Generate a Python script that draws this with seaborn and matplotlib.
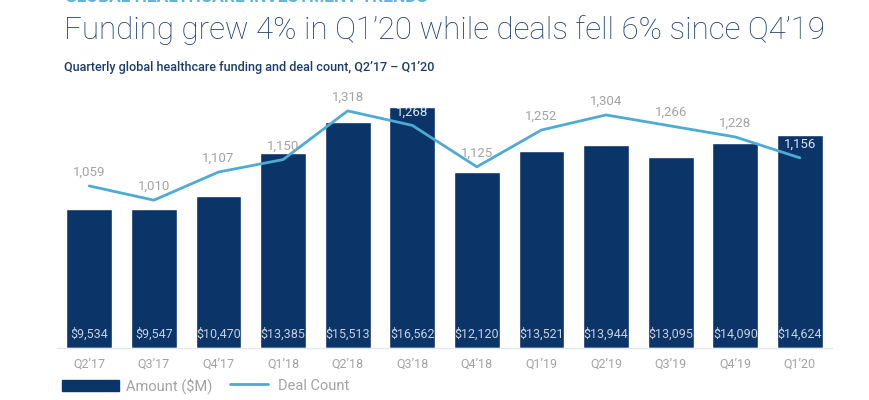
import numpy as np
import matplotlib
matplotlib.use("Agg")
import matplotlib.pyplot as plt
from matplotlib.patches import Patch
from matplotlib.lines import Line2D
import seaborn as sns

# data
quarters = ["Q2’17", "Q3’17", "Q4’17", "Q1’18", "Q2’18", "Q3’18",
            "Q4’18", "Q1’19", "Q2’19", "Q3’19", "Q4’19", "Q1’20"]
amount = [9534, 9547, 10470, 13385, 15513, 16562,
          12120, 13521, 13944, 13095, 14090, 14624]
deals = [1059, 1010, 1107, 1150, 1318, 1268,
         1125, 1252, 1304, 1266, 1228, 1156]

NAVY = "#0b3468"
LINE = "#4eabd4"
GREY = "#a3a3a3"
narrow = ["Liberation Sans Narrow", "Roboto", "DejaVu Sans"]

sns.set_style("white")
plt.rcParams["font.family"] = ["Roboto", "DejaVu Sans"]

fig = plt.figure(figsize=(8.7, 4.0), dpi=100)
ax = fig.add_axes([0.0655, 0.13, 0.891, 0.645])

x = np.arange(len(quarters))
sns.barplot(x=x, y=amount, color=NAVY, width=0.71, saturation=1,
            ax=ax, native_scale=True)
ax.set_xlim(-0.5, len(quarters) - 0.5)
ymax = 17730
ax.set_ylim(0, ymax)
ax.set_xticks(x)
ax.set_xticklabels(quarters)
ax.tick_params(axis="x", length=0, pad=7, labelsize=9, labelcolor=GREY)
ax.set_yticks([])
for s in ["top", "right", "left"]:
    ax.spines[s].set_visible(False)
ax.spines["bottom"].set_color("#e3e7ee")
ax.spines["bottom"].set_linewidth(1)

for i, v in enumerate(amount):
    ax.annotate(f"${v:,}", (i, 0), xytext=(0, 5), textcoords="offset points",
                ha="center", va="bottom", fontsize=9, color="#c6d0df")

ax2 = ax.twinx()
lo, hi = 500, 1390
sns.lineplot(x=x, y=deals, color=LINE, linewidth=2, ax=ax2)
ax2.set_ylim(lo, hi)
ax2.set_yticks([])
ax2.set_ylabel("")
for s in ["top", "right", "left", "bottom"]:
    ax2.spines[s].set_visible(False)

for i, v in enumerate(deals):
    # label sits ~13px above point; light text if it falls inside the bar
    frac = (v - lo) / (hi - lo) + 13 / 258
    col = "#dde4ee" if frac < amount[i] / ymax else GREY
    ax2.annotate(f"{v:,}", (i, v), xytext=(0, 5), textcoords="offset points",
                 ha="center", va="bottom", fontsize=9.5, color=col)

# heading texts (the top one is cut by the edge, as in the reference)
fig.text(0.075, 0.996, "GLOBAL HEALTHCARE INVESTMENT TRENDS", fontsize=12.5,
         color="#5fb3db", family=narrow, weight="bold", va="baseline")
fig.text(0.073, 0.902, "Funding grew 4% in Q1’20 while deals fell 6% since Q4’19",
         fontsize=22.5, color="#1d3d6e", family=narrow, weight="light",
         va="baseline")
fig.text(0.073, 0.823, "Quarterly global healthcare funding and deal count, Q2’17 – Q1’20",
         fontsize=9.1, color="#1d3d6e", family=narrow, weight="medium", va="baseline")

fig.legend(handles=[Patch(color=NAVY, label="Amount ($M)")],
           loc="center left", bbox_to_anchor=(0.071, 0.036), frameon=False,
           handlelength=3.9, handleheight=0.8, handletextpad=0.5,
           fontsize=10.5, labelcolor=GREY, borderaxespad=0, borderpad=0)
fig.legend(handles=[Line2D([], [], color=LINE, lw=2, label="Deal Count")],
           loc="center left", bbox_to_anchor=(0.264, 0.036), frameon=False,
           handlelength=2.6, handletextpad=0.7,
           fontsize=10.5, labelcolor=GREY, borderaxespad=0, borderpad=0)

fig.savefig("out.png", dpi=100, facecolor="white")
